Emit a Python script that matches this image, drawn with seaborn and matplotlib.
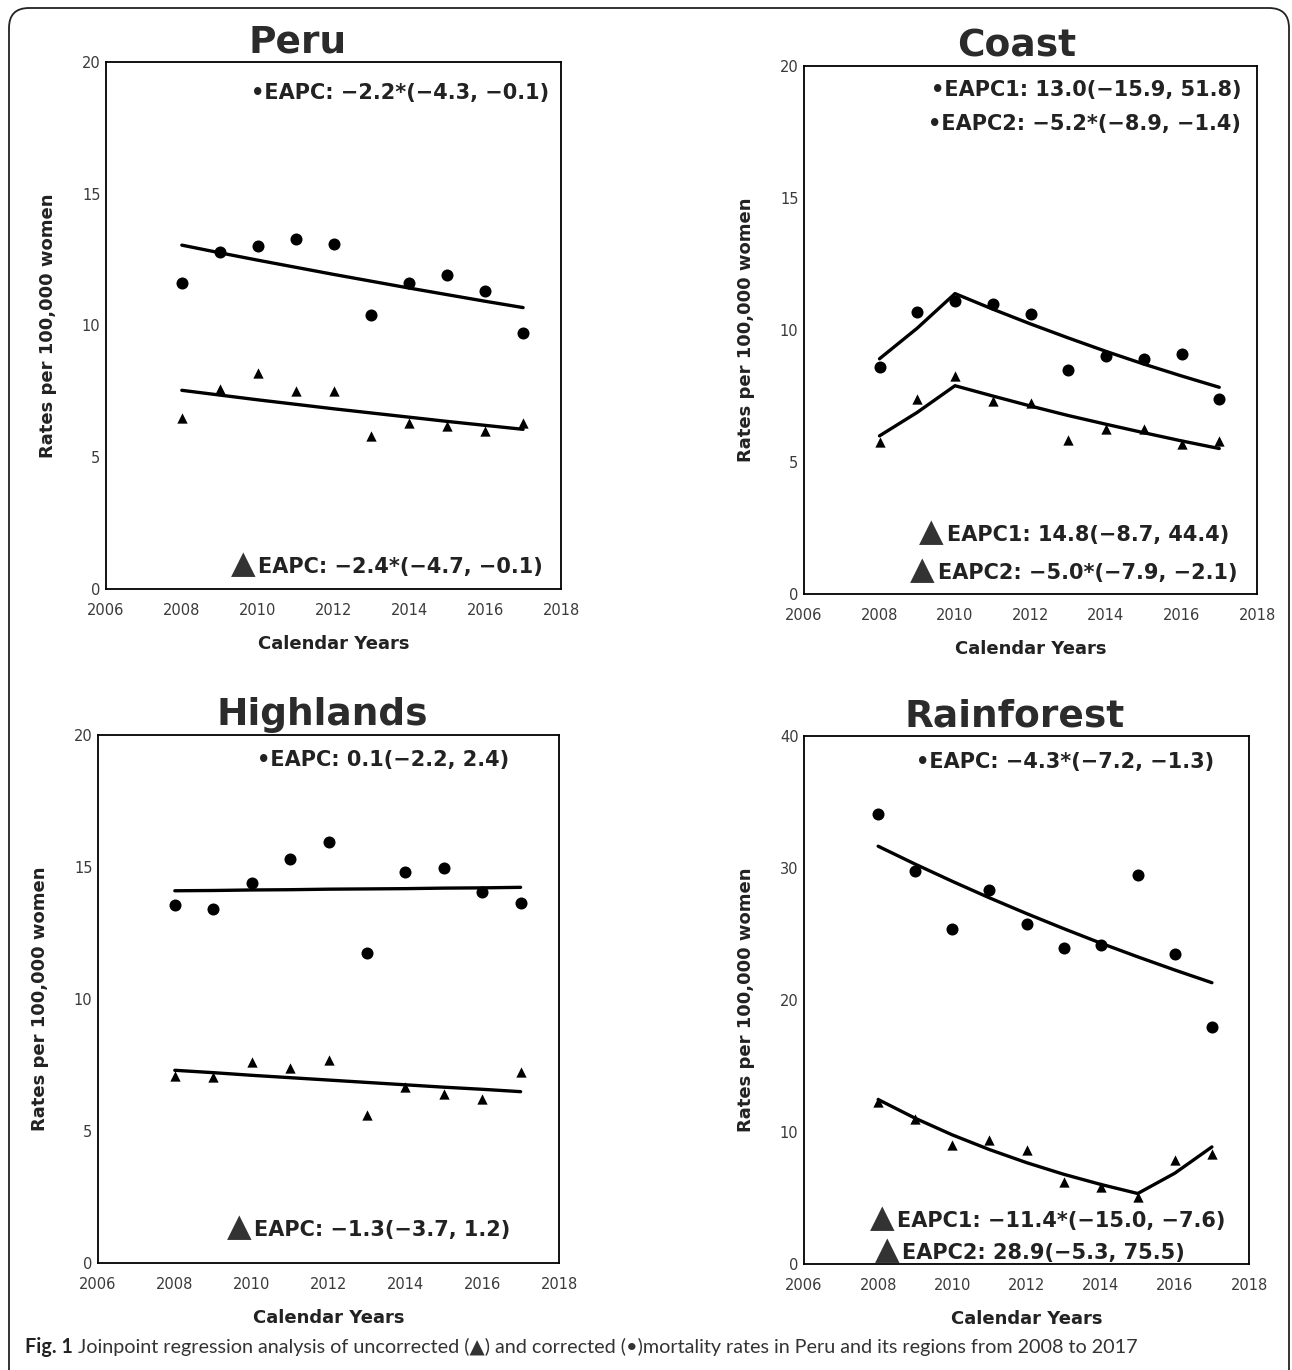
import numpy as np
import matplotlib
matplotlib.use('Agg')
from matplotlib import pyplot as plt
from matplotlib.offsetbox import TextArea, HPacker, AnnotationBbox
from matplotlib.patches import FancyBboxPatch
import seaborn as sns

years = [2008, 2009, 2010, 2011, 2012, 2013, 2014, 2015, 2016, 2017]

# corrected (circles) / uncorrected (triangles) rates and joinpoint fits
peru_corr = [11.6, 12.8, 13.0, 13.3, 13.1, 10.4, 11.6, 11.9, 11.3, 9.7]
peru_corr_fit = [13.05, 12.76, 12.48, 12.21, 11.94, 11.68, 11.42, 11.17, 10.92, 10.68]
peru_uncorr = [6.5, 7.6, 8.2, 7.5, 7.5, 5.8, 6.3, 6.2, 6.0, 6.3]
peru_uncorr_fit = [7.54, 7.36, 7.18, 7.01, 6.84, 6.68, 6.52, 6.36, 6.21, 6.06]

coast_corr = [8.6, 10.7, 11.1, 11.0, 10.6, 8.5, 9.0, 8.9, 9.1, 7.4]
coast_corr_fit = [8.91, 10.07, 11.38, 10.79, 10.23, 9.70, 9.19, 8.71, 8.26, 7.83]
coast_uncorr = [5.75, 7.4, 8.25, 7.3, 7.25, 5.85, 6.25, 6.25, 5.7, 5.8]
coast_uncorr_fit = [5.99, 6.88, 7.89, 7.50, 7.12, 6.76, 6.43, 6.11, 5.80, 5.51]

high_corr = [13.55, 13.4, 14.4, 15.3, 15.95, 11.75, 14.8, 14.95, 14.05, 13.65]
high_corr_fit = [14.10, 14.11, 14.13, 14.14, 14.16, 14.17, 14.18, 14.20, 14.21, 14.23]
high_uncorr = [7.1, 7.05, 7.6, 7.4, 7.7, 5.6, 6.65, 6.4, 6.2, 7.25]
high_uncorr_fit = [7.30, 7.21, 7.11, 7.02, 6.93, 6.84, 6.75, 6.66, 6.58, 6.49]

rain_corr = [34.1, 29.8, 25.4, 28.3, 25.75, 23.95, 24.15, 29.5, 23.5, 17.95]
rain_corr_fit = [31.65, 30.29, 28.99, 27.74, 26.55, 25.41, 24.31, 23.27, 22.27, 21.31]
rain_uncorr = [12.3, 11.0, 9.0, 9.4, 8.6, 6.2, 5.8, 5.1, 7.9, 8.3]
rain_uncorr_fit = [12.46, 11.04, 9.78, 8.67, 7.68, 6.80, 6.03, 5.34, 6.88, 8.87]

peru_circle_notes = ['EAPC: −2.2*(−4.3, −0.1)']
peru_triangle_notes = ['EAPC: −2.4*(−4.7, −0.1)']
coast_circle_notes = ['EAPC1: 13.0(−15.9, 51.8)', 'EAPC2: −5.2*(−8.9, −1.4)']
coast_triangle_notes = ['EAPC1: 14.8(−8.7, 44.4)', 'EAPC2: −5.0*(−7.9, −2.1)']
high_circle_notes = ['EAPC: 0.1(−2.2, 2.4)']
high_triangle_notes = ['EAPC: −1.3(−3.7, 1.2)']
rain_circle_notes = ['EAPC: −4.3*(−7.2, −1.3)']
rain_triangle_notes = ['EAPC1: −11.4*(−15.0, −7.6)', 'EAPC2: 28.9(−5.3, 75.5)']

caption_bold = 'Fig. 1'
caption_text = (' Joinpoint regression analysis of uncorrected (▲) and corrected (•)mortality '
                'rates in Peru and its regions from 2008 to 2017')

sns.set_style('white')
plt.rcParams['font.family'] = ['DejaVu Sans']

W, H = 1292, 1370
fig = plt.figure(figsize=(W / 100, H / 100), dpi=100)


def px_axes(left, top, right, bottom):
    return fig.add_axes([left / W, 1 - bottom / H, (right - left) / W, (bottom - top) / H])


def draw_panel(ax, title, title_x, corr, corr_fit, uncorr, uncorr_fit, ymax,
               circle_notes, circle_pos, triangle_notes, triangle_pos):
    sns.lineplot(x=years, y=corr_fit, ax=ax, color='black', lw=2.4)
    sns.lineplot(x=years, y=uncorr_fit, ax=ax, color='black', lw=2.4)
    sns.scatterplot(x=years, y=corr, ax=ax, marker='o', s=75, color='black', linewidth=0, zorder=3)
    sns.scatterplot(x=years, y=uncorr, ax=ax, marker='^', s=55, color='black', linewidth=0, zorder=3)

    ax.set_xlim(2006, 2018)
    ax.set_ylim(0, ymax)
    ax.set_xticks(range(2006, 2019, 2))
    yt = [int(v) for v in np.linspace(0, ymax, 5)]
    ax.set_yticks(yt)
    ax.set_yticklabels([str(v) for v in yt])
    ax.tick_params(length=0, labelsize=10.5, labelcolor='#3a3a3a')
    ax.tick_params(axis='x', pad=10)
    ax.tick_params(axis='y', pad=4)
    for sp in ax.spines.values():
        sp.set_color('black')
        sp.set_linewidth(1.3)
    ax.set_xlabel('Calendar Years', fontsize=13, fontweight='bold', color='#222', labelpad=12)
    ax.set_ylabel('Rates per 100,000 women', fontsize=13, fontweight='bold', color='#222', labelpad=18)

    ax.annotate(title, xy=(title_x, 1), xycoords='axes fraction', xytext=(0, 7),
                textcoords='offset points', ha='center', va='baseline',
                fontsize=27, fontweight='bold', color='#2b2b2b')

    for txt, (x, y) in zip(circle_notes, circle_pos):
        ax.text(x, y, '•' + txt, transform=ax.transAxes, ha='right', va='center',
                fontsize=15, fontweight='bold', color='#222')

    for txt, (x, y) in zip(triangle_notes, triangle_pos):
        pack = HPacker(children=[TextArea('▲', textprops=dict(fontsize=23, color='#333')),
                                 TextArea(txt, textprops=dict(fontsize=15, fontweight='bold', color='#222'))],
                       align='baseline', pad=0, sep=2)
        ab = AnnotationBbox(pack, (x, y), xycoords='axes fraction', box_alignment=(1, 0.5),
                            frameon=False, pad=0)
        ax.add_artist(ab)


ax1 = px_axes(106, 62, 561, 589)
draw_panel(ax1, 'Peru', 0.42, peru_corr, peru_corr_fit, peru_uncorr, peru_uncorr_fit, 20,
           peru_circle_notes, [(0.974, 0.942)], peru_triangle_notes, [(0.96, 0.047)])

ax2 = px_axes(804, 66, 1257, 594)
draw_panel(ax2, 'Coast', 0.47, coast_corr, coast_corr_fit, coast_uncorr, coast_uncorr_fit, 20,
           coast_circle_notes, [(0.965, 0.955), (0.965, 0.89)],
           coast_triangle_notes, [(0.938, 0.117), (0.956, 0.045)])

ax3 = px_axes(98, 735, 559, 1263)
draw_panel(ax3, 'Highlands', 0.486, high_corr, high_corr_fit, high_uncorr, high_uncorr_fit, 20,
           high_circle_notes, [(0.892, 0.953)], high_triangle_notes, [(0.894, 0.068)])

ax4 = px_axes(804, 736, 1249, 1264)
draw_panel(ax4, 'Rainforest', 0.474, rain_corr, rain_corr_fit, rain_uncorr, rain_uncorr_fit, 40,
           rain_circle_notes, [(0.921, 0.951)],
           rain_triangle_notes, [(0.947, 0.086), (0.856, 0.026)])

# caption
cap_font = ['Lato', 'DejaVu Sans']
cap = HPacker(children=[TextArea(caption_bold, textprops=dict(fontsize=14.2, fontweight='bold',
                                                              family=cap_font, color='#222')),
                        TextArea(caption_text, textprops=dict(fontsize=14.2, family=cap_font, color='#333'))],
              align='baseline', pad=0, sep=0)
fig.add_artist(AnnotationBbox(cap, (25 / W, 23 / H), xycoords='figure fraction',
                              box_alignment=(0, 0.5), frameon=False, pad=0))

# rounded outer frame
frame = FancyBboxPatch((0.09, -0.3), 12.80, 13.62 + 0.3, boxstyle='round,pad=0,rounding_size=0.2',
                       transform=fig.dpi_scale_trans, fill=False, lw=1.3, ec='#222')
fig.add_artist(frame)

fig.savefig('out.png', dpi=100, facecolor='white')
